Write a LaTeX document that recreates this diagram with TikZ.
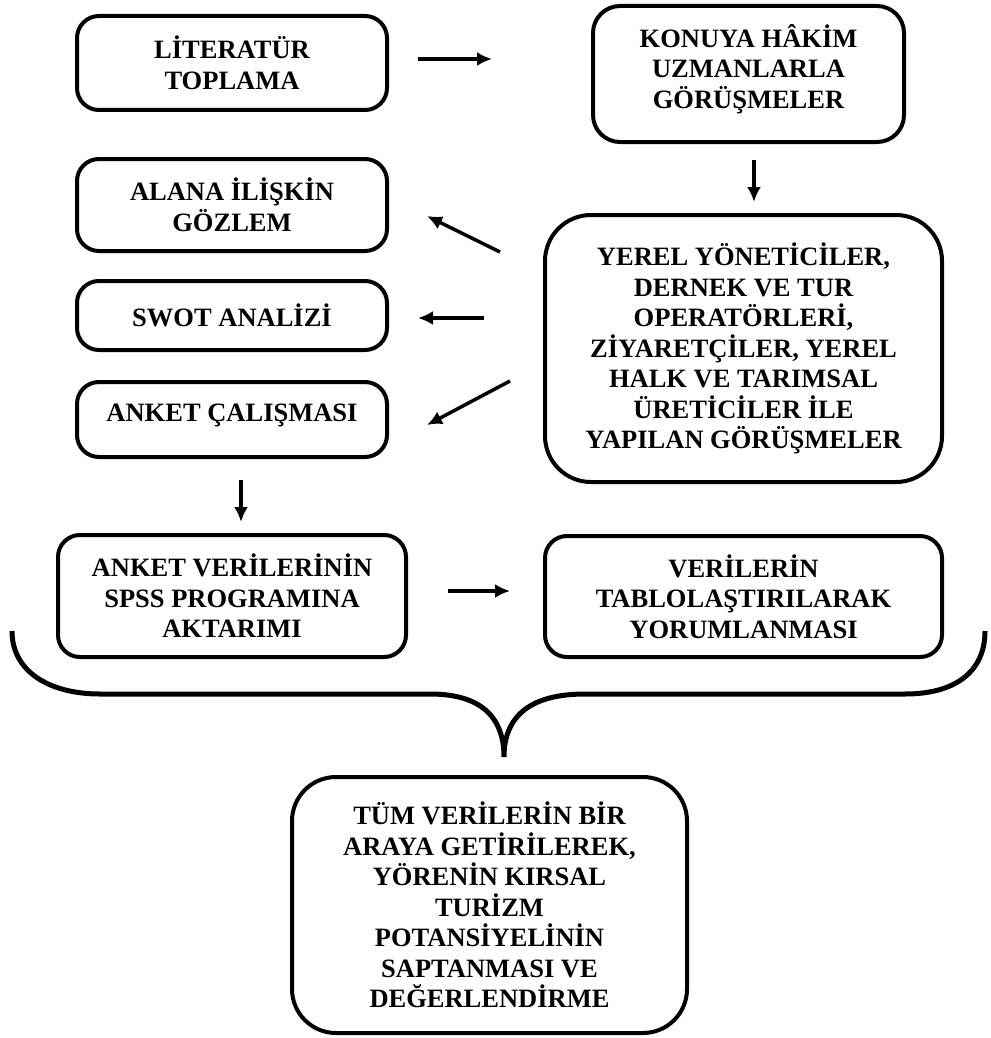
\documentclass[tikz,border=0pt]{standalone}
\usepackage{fontspec}
\setmainfont{Liberation Serif}
\usetikzlibrary{arrows.meta}
\tikzset{
  kutu/.style={draw, line width=4pt, rounded corners=22pt, align=center, inner sep=0pt, outer sep=0pt,
    font=\fontsize{26.5}{30.5}\selectfont\bfseries},
  akis/.style={line width=3.5pt, -{Latex[length=15pt,width=14pt]}},
}
\begin{document}
\begin{tikzpicture}[x=1pt,y=-1pt]
\useasboundingbox (0,0) rectangle (990,1038);
\node[kutu, minimum width=310pt, minimum height=94pt] (lit) at (232,63) {LİTERATÜR\\TOPLAMA};
\node[kutu, rounded corners=27pt, minimum width=311pt, minimum height=136pt, text depth=16pt] (uzm) at (748.5,74) {KONUYA HÂKİM\\UZMANLARLA\\GÖRÜŞMELER};
\node[kutu, minimum width=310pt, minimum height=92pt] (gozlem) at (232,205) {ALANA İLİŞKİN\\GÖZLEM};
\node[kutu, minimum width=310pt, minimum height=69pt] (swot) at (232,315.5) {SWOT ANALİZİ};
\node[kutu, minimum width=310pt, minimum height=75pt, text depth=13pt] (anket) at (232,419.5) {ANKET ÇALIŞMASI};
\node[kutu, rounded corners=46pt, minimum width=397pt, minimum height=267pt] (yerel) at (743.5,348.5) {YEREL YÖNETİCİLER,\\DERNEK VE TUR\\OPERATÖRLERİ,\\ZİYARETÇİLER, YEREL\\HALK VE TARIMSAL\\ÜRETİCİLER İLE\\YAPILAN GÖRÜŞMELER};
\node[kutu, minimum width=348pt, minimum height=122pt] (spss) at (232,596) {ANKET VERİLERİNİN\\SPSS PROGRAMINA\\AKTARIMI};
\node[kutu, minimum width=397pt, minimum height=121pt] (tablo) at (743.5,596.5) {VERİLERİN\\TABLOLAŞTIRILARAK\\YORUMLANMASI};
\node[kutu, rounded corners=44pt, minimum width=395pt, minimum height=256pt] (tum) at (489.5,905) {TÜM VERİLERİN BİR\\ARAYA GETİRİLEREK,\\YÖRENİN KIRSAL\\TURİZM\\POTANSİYELİNİN\\SAPTANMASI VE\\DEĞERLENDİRME};
% oklar
\draw[akis] ([shift={(31,-4)}]lit.east) -- ([shift={(-101,-15)}]uzm.west);
\draw[akis] ([shift={(5.5,18)}]uzm.south) -- ([shift={(10.5,-13)}]yerel.north);
\draw[akis] ([shift={(-45,-96.5)}]yerel.west) -- ([shift={(40,11)}]gozlem.east);
\draw[akis] ([shift={(-61,-30.5)}]yerel.west) -- ([shift={(31,2.5)}]swot.east);
\draw[akis] ([shift={(-35,32.5)}]yerel.west) -- ([shift={(40,5.5)}]anket.east);
\draw[akis] ([shift={(9,23)}]anket.south) -- ([shift={(9,-13)}]spss.north);
\draw[akis] ([shift={(42,-5)}]spss.east) -- ([shift={(-35,-5.5)}]tablo.west);
% parantez
\draw[line width=5pt] (12,631) .. controls (12,672) and (50,694) .. (100,694) -- (430,694)
  .. controls (482,694) and (504,718) .. (504,757) .. controls (504,718) and (528,694) .. (585,694)
  -- (905,694) .. controls (955,694) and (985,672) .. (985,631);
\end{tikzpicture}
\end{document}
